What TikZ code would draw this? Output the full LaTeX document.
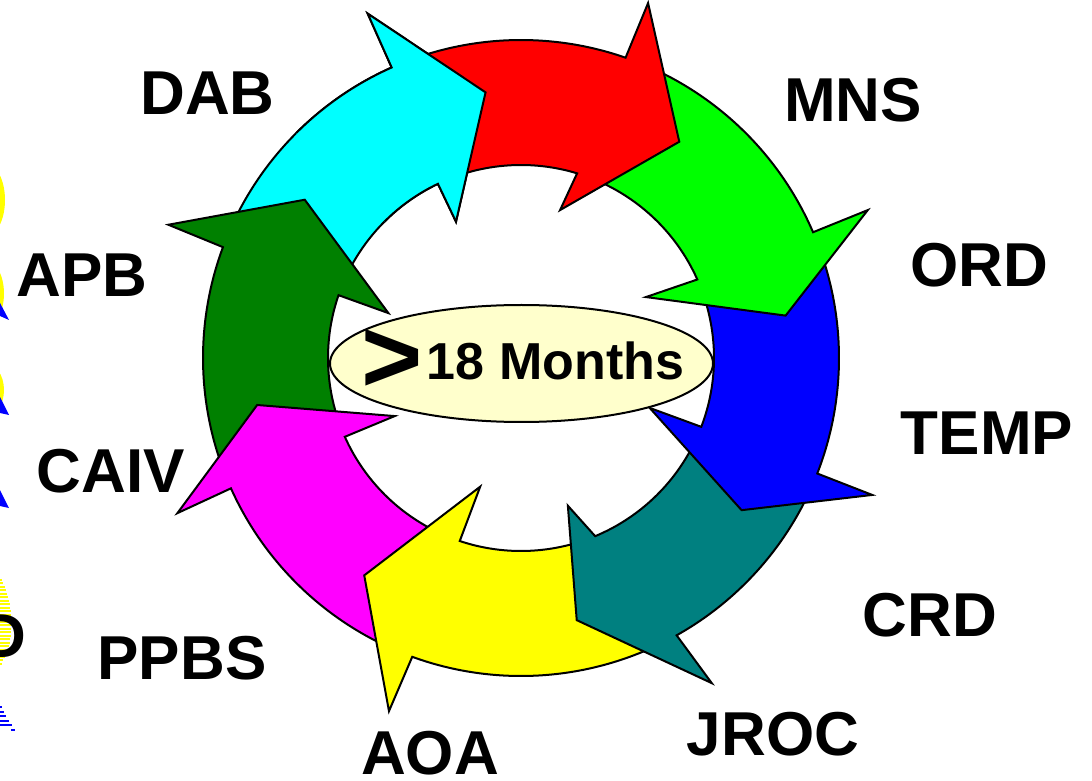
\documentclass[tikz,border=0pt]{standalone}
\usepackage{fontspec}
\setmainfont{Liberation Sans}
\usetikzlibrary{shapes.geometric}
\definecolor{cyanA}{RGB}{0,255,255}
\definecolor{redA}{RGB}{255,0,0}
\definecolor{greenA}{RGB}{0,255,0}
\definecolor{blueA}{RGB}{0,0,255}
\definecolor{tealA}{RGB}{0,128,128}
\definecolor{yellowA}{RGB}{255,255,0}
\definecolor{magentaA}{RGB}{255,0,255}
\definecolor{dkgreenA}{RGB}{0,128,0}
\definecolor{ellfill}{RGB}{255,255,204}
\newcommand\ringarrow[9]{%
  \filldraw[ringline, fill=#1] (#2:318) arc[start angle=#2, end angle=#4, radius=318]
    -- (#6:377) -- (#8:268) -- (#7:#9) -- (#5:193)
    arc[start angle=#5, end angle=#3, radius=193] -- cycle;}
\begin{document}
\begin{tikzpicture}[x=1pt,y=1pt,
  ringline/.style={draw=black, line width=2pt, line join=miter, miter limit=20},
  lbl/.style={font=\fontsize{62}{70}\selectfont\bfseries, anchor=base, inner sep=0pt},
  ystripe/.style={draw=yellowA, line width=1.3pt},
  bstripe/.style={draw=blueA, line width=1.3pt}]
\useasboundingbox (0,0) rectangle (1092,780);
% left edge fragments
\fill[yellowA] (-15,580) ellipse[x radius=20, y radius=37];
\fill[yellowA] (-15,486.5) ellipse[x radius=19, y radius=33.5];
\fill[yellowA] (-15,390) ellipse[x radius=19, y radius=27];
\fill[blueA] (0,477) -- (9,460) -- (0,464) -- cycle;
\fill[blueA] (0,383) -- (9,365) -- (0,367) -- cycle;
\fill[blueA] (0,290) -- (9,272) -- (0,274) -- cycle;
\foreach \yy/\ll in {580/2,583/3,587/5,590/6,594/7,597/8,601/9,604/10,608/10,611/11,615/11,618/11,622/11,625/11,629/11,632/11,636/11,639/10,643/10,646/9,650/8,653/7,657/5,660/3,664/2}
  \draw[ystripe] (0,780-\yy) -- (\ll,780-\yy);
\foreach \yy/\ll in {707/2,712/4,716/6,721/9,725/12}
  \draw[bstripe] (0,780-\yy) -- (\ll,780-\yy);
\draw[bstripe] (11,50) -- (15,50);
% ring of arrows
\begin{scope}[shift={(521,422)}]
  \ringarrow{cyanA}{157}{158.5}{114}{115.5}{114}{115.5}{97.6}{151}
  \ringarrow{dkgreenA}{201.7}{201.6}{159.6}{161}{159.3}{161.3}{143.8}{140}
  \ringarrow{magentaA}{-112.5}{-111}{-155.8}{-155.9}{-155.7}{-155.3}{-169.9}{139}
  \ringarrow{yellowA}{-63.2}{-69.9}{-110}{-108.5}{-110.5}{-107.6}{-125.8}{135}
  \ringarrow{tealA}{-23.8}{-23.4}{-60.7}{-67.4}{-59.6}{-72.4}{-78}{155}
  \ringarrow{blueA}{20.8}{21.5}{-21.3}{-20.9}{-21.3}{-21.2}{-34.6}{138}
  \ringarrow{greenA}{68.3}{70.6}{23.3}{24}{23.1}{26}{9.1}{139}
  \ringarrow{redA}{111.5}{113}{70.8}{73.1}{70.3}{75.2}{53.8}{153}
  \begin{scope}
    \clip (0,0) -- (85:500) arc[start angle=85, end angle=135, radius=500] -- cycle;
    \ringarrow{cyanA}{157}{158.5}{114}{115.5}{114}{115.5}{97.6}{151}
  \end{scope}
\end{scope}
% centre
\node[ellipse, draw=black, line width=2pt, fill=ellfill, minimum width=383pt, minimum height=117pt, inner sep=0pt] (mid) at (521.5,416.5) {};
\node[font=\fontsize{105}{105}\selectfont\bfseries, inner sep=0pt] (gt) at (392.5,419) {>};
\node[font=\fontsize{52}{60}\selectfont\bfseries, anchor=base, inner sep=0pt] (months) at (555.5,400) {18 Months};
% labels
\node[lbl] (dab) at (207.5,665) {DAB};
\node[lbl] (mns) at (853,658) {MNS};
\node[lbl] (ord) at (979,493) {ORD};
\node[lbl] (temp) at (987,326) {TEMP};
\node[lbl] (apb) at (82,483) {APB};
\node[lbl] (caiv) at (111,288) {CAIV};
\node[lbl] (crd) at (930,144) {CRD};
\node[lbl] (ppbs) at (182,101) {PPBS};
\node[lbl] (jroc) at (773,25) {JROC};
\node[lbl] (aoa) at (430,6) {AOA};
\node[lbl] (dpart) at (4,123) {D};
\end{tikzpicture}
\end{document}
